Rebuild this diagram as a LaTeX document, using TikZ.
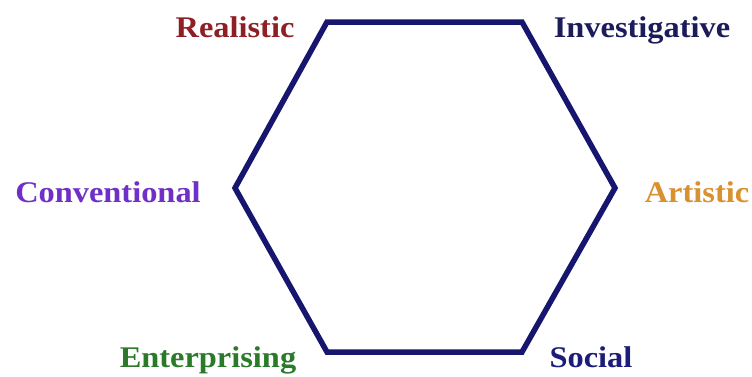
\documentclass[tikz,border=0pt]{standalone}
\usepackage{fontspec}
\setmainfont{Liberation Serif}
\definecolor{hexblue}{HTML}{16166E}
\definecolor{creal}{HTML}{8E1F25}
\definecolor{cinv}{HTML}{1C1C5A}
\definecolor{cconv}{HTML}{7030C8}
\definecolor{cart}{HTML}{D9902E}
\definecolor{cent}{HTML}{2A7A2A}
\definecolor{csoc}{HTML}{1C1C7A}
\begin{document}
\begin{tikzpicture}[x=1pt,y=1pt,
  lbl/.style={font=\fontsize{30}{30}\selectfont\bfseries, anchor=base, inner sep=0pt, xscale=1.08},
  hexline/.style={draw=hexblue, line width=5.5pt, line join=miter}]
\useasboundingbox (0,0) rectangle (752,376);
\fill[white] (0,0) rectangle (752,376);
\coordinate (R) at (327,354);
\coordinate (I) at (522,354);
\coordinate (A) at (615,188);
\coordinate (S) at (522,24);
\coordinate (E) at (327,24);
\coordinate (C) at (235,188);
\draw[hexline] (R) -- (I) -- (A) -- (S) -- (E) -- (C) -- cycle;
\node[lbl, text=creal] (lR) at (235,339) {Realistic};
\node[lbl, text=cinv] (lI) at (642,339) {Investigative};
\node[lbl, text=cconv] (lC) at (108,174) {Conventional};
\node[lbl, text=cart] (lA) at (697,174) {Artistic};
\node[lbl, text=cent] (lE) at (208,9) {Enterprising};
\node[lbl, text=csoc] (lS) at (591,9) {Social};
\end{tikzpicture}
\end{document}
